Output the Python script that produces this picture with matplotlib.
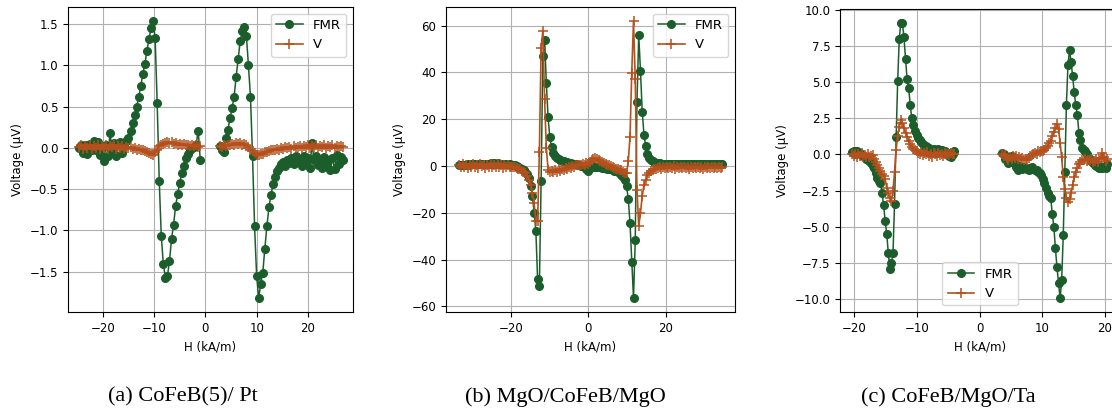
import numpy as np
import matplotlib
matplotlib.use("Agg")
import matplotlib.pyplot as plt

FMR_COLOR = "#1b5e2c"
V_COLOR = "#b5501c"

# (a) CoFeB(5)/Pt -- two field sweeps with a gap around zero
a_neg_h = np.linspace(-24.6, -1.0, 60)
a_neg_fmr = [0.00, 0.04, -0.06, 0.03, -0.07, 0.05, -0.02, 0.09, -0.03, 0.07,
             -0.09, 0.02, -0.16, 0.04, -0.10, 0.18, -0.03, 0.06, -0.10, 0.05,
             0.07, -0.06, 0.02, 0.08, 0.12, 0.20, 0.30, 0.40, 0.50, 0.62,
             0.75, 0.90, 1.02, 1.18, 1.32, 1.45, 1.54, 1.33, 0.54, -0.40,
             -1.07, -1.41, -1.57, -1.55, -1.37, -1.10, -0.93, -0.70, -0.56, -0.42,
             -0.30, -0.22, -0.12, -0.07, -0.03, 0.00, 0.01, 0.04, 0.21, -0.14]
a_neg_v = [0.01, 0.03, -0.01, 0.02, 0.00, 0.03, -0.01, 0.02, 0.00, 0.03,
           -0.01, 0.02, 0.00, 0.03, -0.01, 0.02, 0.01, 0.03, -0.01, 0.02,
           0.00, 0.02, -0.01, 0.01, 0.00, 0.01, -0.01, 0.00, -0.02, -0.01,
           -0.03, -0.03, -0.04, -0.05, -0.06, -0.07, -0.08, -0.05, -0.02, 0.02,
           0.04, 0.05, 0.06, 0.07, 0.06, 0.07, 0.05, 0.06, 0.04, 0.05,
           0.03, 0.05, 0.03, 0.04, 0.02, 0.04, 0.02, 0.03, 0.01, 0.02]
a_pos_h = np.linspace(2.8, 26.8, 61)
a_pos_fmr = [0.02, -0.03, -0.05, 0.12, 0.22, 0.36, 0.48, 0.62, 0.86, 1.08,
             1.30, 1.42, 1.46, 1.36, 1.00, 0.62, -0.10, -0.95, -1.55, -1.82,
             -1.65, -1.51, -1.22, -0.95, -0.72, -0.57, -0.44, -0.35, -0.28, -0.24,
             -0.20, -0.17, -0.22, -0.14, -0.18, -0.12, -0.20, -0.10, -0.16, -0.13,
             -0.22, -0.10, -0.18, -0.12, -0.24, 0.06, -0.15, -0.10, -0.21, -0.13,
             -0.24, -0.11, -0.19, -0.14, -0.27, -0.12, -0.26, -0.09, -0.20, -0.11,
             -0.14]
a_pos_v = [0.02, 0.01, 0.03, 0.02, 0.04, 0.03, 0.05, 0.04, 0.06, 0.05,
           0.06, 0.04, 0.05, 0.03, 0.01, -0.02, -0.04, -0.06, -0.08, -0.09,
           -0.07, -0.07, -0.05, -0.05, -0.04, -0.03, -0.03, -0.02, -0.01, -0.02,
           0.00, -0.01, 0.01, 0.00, 0.01, -0.01, 0.02, 0.00, 0.01, 0.02,
           0.00, 0.02, 0.01, 0.03, 0.00, 0.02, 0.01, 0.03, 0.00, 0.02,
           0.01, 0.03, 0.00, 0.02, 0.01, 0.03, 0.00, 0.02, 0.01, 0.02,
           0.01]

# (b) MgO/CoFeB/MgO -- one continuous sweep
b_h = np.linspace(-33.3, 34.65, 152)
b_fmr = [0.3, 0.5, 0.4, 0.6, 0.5, 0.7, 0.6, 0.7, 0.8, 0.7,
         0.8, 0.9, 0.8, 0.9, 1.0, 0.9, 1.0, 1.0, 1.1, 1.0,
         1.1, 1.0, 1.1, 1.0, 1.0, 1.0, 0.9, 0.9, 0.8, 0.7,
         0.6, 0.4, 0.2, 0.0, -0.3, -0.7, -1.2, -1.8, -2.5, -3.5,
         -5.0, -8.5, -13.0, -20.0, -28.0, -48.5, -51.5, -6.6, 47.0, 54.0,
         35.5, 20.7, 12.3, 8.0, 5.6, 4.4, 3.5, 3.0, 2.6, 2.3,
         2.0, 1.8, 1.6, 1.4, 1.2, 1.0, 0.9, 0.7, 0.5, 0.3,
         0.1, -0.1, -0.5, -1.2, -2.3, -0.8, -0.3, -0.2, -0.3, -0.4,
         -0.5, -0.6, -0.7, -0.9, -1.0, -1.1, -1.3, -1.5, -1.7, -2.0,
         -2.3, -2.7, -3.1, -3.7, -4.6, -6.0, -8.7, -14.0, -24.5, -41.0,
         -56.5, -31.8, 27.2, 55.8, 40.7, 23.1, 13.4, 8.4, 5.2, 3.6,
         2.7, 2.1, 1.7, 1.4, 1.2, 1.1, 1.0, 0.9, 1.0, 0.9,
         0.8, 0.9, 1.0, 0.8, 0.9, 0.8, 0.9, 1.0, 0.8, 0.9,
         0.8, 0.9, 0.7, 0.8, 0.9, 0.8, 0.7, 0.9, 0.8, 0.7,
         0.8, 0.9, 0.7, 0.8, 0.7, 0.9, 0.8, 0.7, 0.8, 0.9,
         0.8, 0.7]
b_v = [0.5, -0.6, 0.8, -0.4, 0.2, -0.8, 0.6, -0.3, 0.9, -0.5,
       0.3, -0.7, 0.7, -0.2, 0.4, -0.9, 0.6, -0.4, 0.8, -0.6,
       0.2, -0.5, 0.7, -0.3, 0.4, -0.8, 0.5, -0.6, 0.3, -0.4,
       -0.3, -0.6, -0.5, -0.9, -1.2, -1.5, -2.0, -2.6, -3.2, -4.2,
       -5.8, -8.0, -11.5, -16.0, -23.7, -23.5, 5.8, 50.4, 57.6, 28.4,
       7.7, -1.6, -2.6, -2.3, -2.8, -1.9, -2.4, -1.5, -2.0, -1.2,
       -1.6, -0.8, -1.1, -0.4, -0.7, 0.0, -0.3, 0.4, 0.2, 0.6,
       0.3, 0.8, 0.5, 1.2, 0.8, 1.8, 2.4, 2.9, 3.3, 2.8,
       2.5, 2.0, 1.8, 1.2, 1.0, 0.5, 0.2, -0.2, -0.5, -0.8,
       -1.2, -1.4, -1.8, -1.9, -2.5, -3.0, -3.2, 2.0, 12.5, 39.8,
       62.0, 37.0, -10.1, -25.8, -20.0, -13.0, -8.0, -6.0, -4.0, -3.0,
       -2.2, -1.8, -1.4, -1.2, -0.9, -0.6, -1.1, -0.4, -0.9, -0.3,
       -1.0, -0.5, -0.8, -0.2, -1.1, -0.6, -0.9, -0.3, -1.0, -0.5,
       -0.8, -0.4, -1.2, -0.6, -0.7, -0.3, -1.0, -0.5, -0.9, -0.4,
       -1.1, -0.6, -0.8, -0.3, -0.9, -0.5, -1.0, -0.4, -0.8, -0.6,
       -0.7, -0.5]

# (c) CoFeB/MgO/Ta -- two field sweeps with a gap around zero
c_neg_h = np.linspace(-20.3, -4.05, 66)
c_neg_fmr = [0.15, 0.22, 0.05, 0.20, 0.10, 0.12, -0.05, -0.10, -0.20, -0.30,
             -0.35, -0.45, -0.60, -0.80, -0.95, -1.30, -1.62, -1.85, -2.00, -2.66,
             -3.50, -4.60, -5.50, -6.80, -7.90, -7.50, -6.80, -3.40, 1.20, 5.10,
             8.00, 9.10, 9.05, 8.10, 6.60, 5.20, 4.60, 3.40, 2.50, 2.00,
             1.60, 1.35, 1.10, 1.00, 0.85, 0.72, 0.60, 0.55, 0.50, 0.45,
             0.30, 0.25, 0.40, 0.30, 0.10, 0.35, 0.20, 0.30, 0.10, 0.20,
             0.05, 0.10, -0.10, -0.20, 0.05, 0.25]
c_neg_v = [0.00, -0.10, 0.05, -0.15, 0.00, -0.10, 0.10, -0.20, -0.05, -0.15,
           0.00, -0.20, -0.10, -0.05, -0.30, -0.50, -0.75, -0.95, -1.15, -1.35,
           -1.50, -1.70, -2.30, -2.70, -3.00, -3.20, -2.50, -1.20, 0.30, 1.30,
           1.90, 2.35, 2.20, 1.80, 1.50, 1.20, 0.90, 0.70, 0.50, 0.40,
           0.30, 0.25, 0.10, 0.00, 0.15, -0.05, 0.10, 0.00, 0.15, -0.10,
           0.05, -0.15, 0.10, 0.00, -0.10, 0.10, -0.05, 0.05, -0.10, 0.10,
           0.00, 0.05, -0.05, 0.10, 0.00, 0.05]
c_pos_h = np.linspace(3.6, 20.35, 68)
c_pos_fmr = [0.10, 0.00, -0.30, -0.20, -0.60, -0.40, -0.10, -0.50, -0.70, -0.90,
             -1.05, -0.80, -0.90, -1.00, -0.90, -0.95, -1.00, -1.10, -0.95, -0.90,
             -1.00, -1.10, -1.05, -1.20, -1.30, -1.40, -1.70, -2.00, -2.30, -2.70,
             -2.90, -3.00, -4.10, -5.00, -6.50, -7.80, -8.90, -9.95, -8.70, -5.60,
             -1.20, 3.40, 6.20, 7.20, 6.40, 5.40, 4.30, 3.40, 2.70, 1.50,
             1.00, 0.45, 0.30, 0.20, 0.00, -0.15, -0.30, -0.47, -0.60, -0.75,
             -0.82, -0.90, -0.94, -0.90, -0.95, -0.90, -0.94, -0.65]
c_pos_v = [0.00, -0.13, -0.05, -0.25, -0.36, -0.20, -0.30, -0.10, -0.25, -0.13,
           -0.30, -0.20, -0.35, -0.25, -0.40, -0.30, -0.36, -0.25, -0.10, -0.05,
           0.00, 0.10, 0.05, 0.20, 0.15, 0.25, 0.20, 0.30, 0.45, 0.60,
           0.80, 0.95, 1.26, 1.55, 1.84, 2.07, 1.73, 0.80, -0.20, -1.60,
           -2.40, -3.00, -3.30, -3.10, -2.70, -2.10, -1.60, -1.20, -0.94, -0.70,
           -0.50, -0.36, -0.40, -0.30, -0.45, -0.36, -0.40, -0.30, -0.50, -0.47,
           -0.35, -0.50, -0.30, -0.25, 0.10, -0.20, -0.47, -0.30]

captions = ["(a) CoFeB(5)/ Pt", "(b) MgO/CoFeB/MgO", "(c) CoFeB/MgO/Ta"]


def draw_panel(ax, branches, xlim, xticks, legend_loc):
    """Plot FMR and V curves for each sweep branch on one axes."""
    for k, (h, fmr, v) in enumerate(branches):
        ax.plot(h, fmr, "-o", color=FMR_COLOR, markersize=5.5, linewidth=1.1,
                label="FMR" if k == 0 else None)
    for k, (h, fmr, v) in enumerate(branches):
        ax.plot(h, v, "-+", color=V_COLOR, markersize=7, markeredgewidth=1.1,
                linewidth=1.2, label="V" if k == 0 else None)
    ax.set_xlim(*xlim)
    ax.set_xticks(xticks)
    ax.set_xlabel("H (kA/m)")
    ax.set_ylabel("Voltage (µV)")
    ax.grid(True)
    ax.set_axisbelow(True)
    ax.legend(loc=legend_loc, fontsize=9.5)


plt.rcParams["font.size"] = 8.5

fig = plt.figure(figsize=(11.12, 4.11), dpi=100)
W, H = 1112, 411
boxes = [(68, 7, 353, 312), (446, 7, 735, 312), (840, 9, 1120, 312)]
axes = [fig.add_axes([l / W, (H - b) / H, (r - l) / W, (b - t) / H])
        for l, t, r, b in boxes]

draw_panel(axes[0], [(a_neg_h, a_neg_fmr, a_neg_v), (a_pos_h, a_pos_fmr, a_pos_v)],
           (-26.8, 28.8), [-20, -10, 0, 10, 20], "upper right")
draw_panel(axes[1], [(b_h, b_fmr, b_v)], (-36.7, 37.9), [-20, 0, 20], "upper right")
draw_panel(axes[2], [(c_neg_h, c_neg_fmr, c_neg_v), (c_pos_h, c_pos_fmr, c_pos_v)],
           (-22.25, 22.4), [-20, -10, 0, 10, 20], "lower center")

for x, text in zip([183, 565, 948], captions):
    fig.text(x / W, (H - 397) / H, text, ha="center", va="center",
             family="Liberation Serif", fontsize=16)

fig.savefig("out.png", dpi=100)
